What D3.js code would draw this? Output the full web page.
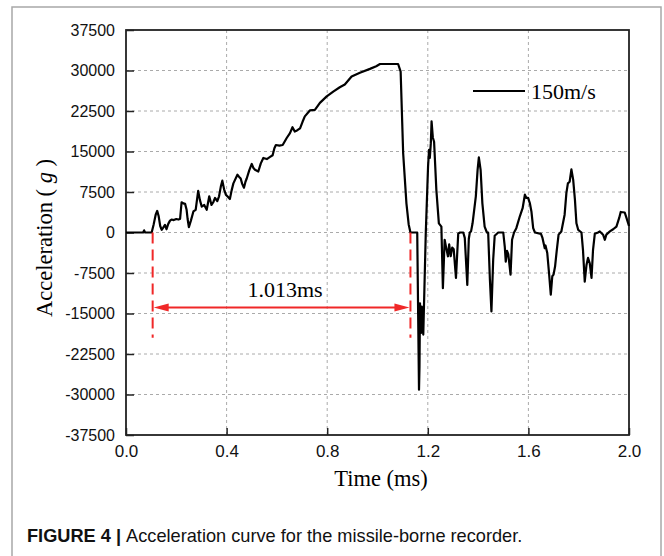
<!DOCTYPE html>
<html>
<head>
<meta charset="utf-8">
<script src="https://cdn.jsdelivr.net/npm/d3@7"></script>
<style>
  body { margin: 0; background: #fff; }
  svg { display: block; }
</style>
</head>
<body>
<script>
// data (time in ms, acceleration in g)
const time = [0.000, 0.068, 0.072, 0.076, 0.102, 0.110, 0.118, 0.124, 0.130, 0.136,
  0.142, 0.148, 0.155, 0.161, 0.168, 0.175, 0.181, 0.190, 0.200, 0.208,
  0.215, 0.221, 0.228, 0.235, 0.241, 0.245, 0.250, 0.258, 0.268, 0.277,
  0.287, 0.294, 0.301, 0.311, 0.321, 0.331, 0.340, 0.347, 0.354, 0.363,
  0.370, 0.377, 0.383, 0.390, 0.397, 0.405, 0.413, 0.420, 0.427, 0.443,
  0.450, 0.456, 0.462, 0.469, 0.475, 0.480, 0.490, 0.500, 0.506, 0.513,
  0.526, 0.536, 0.546, 0.560, 0.573, 0.583, 0.590, 0.596, 0.610, 0.623,
  0.639, 0.652, 0.662, 0.671, 0.680, 0.692, 0.702, 0.711, 0.731, 0.751,
  0.771, 0.798, 0.824, 0.850, 0.870, 0.897, 0.930, 0.970, 0.995, 1.010,
  1.045, 1.082, 1.092, 1.102, 1.115, 1.124, 1.131, 1.158, 1.165, 1.167,
  1.169, 1.173, 1.176, 1.182, 1.192, 1.201, 1.205, 1.208, 1.212, 1.215,
  1.220, 1.225, 1.234, 1.244, 1.254, 1.260, 1.267, 1.273, 1.280, 1.285,
  1.291, 1.297, 1.303, 1.312, 1.321, 1.328, 1.341, 1.347, 1.357, 1.363,
  1.367, 1.372, 1.378, 1.391, 1.398, 1.403, 1.410, 1.417, 1.426, 1.435,
  1.440, 1.447, 1.453, 1.460, 1.466, 1.480, 1.500, 1.506, 1.510, 1.515,
  1.520, 1.529, 1.535, 1.543, 1.552, 1.566, 1.577, 1.586, 1.592, 1.599,
  1.606, 1.612, 1.619, 1.626, 1.650, 1.656, 1.665, 1.668, 1.675, 1.682,
  1.689, 1.695, 1.700, 1.706, 1.713, 1.720, 1.731, 1.744, 1.751, 1.757,
  1.764, 1.771, 1.778, 1.785, 1.791, 1.798, 1.811, 1.817, 1.824, 1.831,
  1.837, 1.844, 1.851, 1.857, 1.864, 1.877, 1.884, 1.897, 1.904, 1.910,
  1.924, 1.937, 1.950, 1.961, 1.967, 1.983, 1.990, 2.000];

const accel = [0, 0, 400, 0, 0, 1500, 3300, 4000, 3000, 1200,
  500, 900, 1400, 600, 1600, 2200, 2400, 2300, 2500, 2400,
  2500, 5600, 5400, 5300, 4200, 2500, 1000, 2200, 3900, 4200,
  7700, 6000, 4800, 5100, 4200, 6700, 5100, 5600, 6400, 5800,
  6700, 8500, 9600, 8000, 7000, 6600, 6200, 7800, 9100, 10700,
  10300, 10000, 9000, 8300, 9400, 10000, 11500, 12700, 12000, 11600,
  11300, 12800, 13800, 13600, 14000, 14300, 15600, 16200, 16100, 16200,
  17500, 18400, 19500, 18700, 18900, 19300, 20500, 21500, 22600, 22700,
  24000, 25200, 26100, 26900, 27400, 28900, 29600, 30300, 30800, 31200,
  31200, 31200, 29800, 14700, 5400, 1500, 0, 0, -29100, -24800,
  -13100, -18600, -13700, -18900, 0, 12200, 15300, 13800, 16500, 20600,
  17600, 16800, 7900, 1700, 1100, -10300, -1350, -2800, -4400, -2200,
  -4400, -2800, -3100, -8400, -200, 0, 0, -1000, -9700, -1200,
  0, 200, 1700, 6700, 11600, 13900, 11600, 5400, 1100, 0,
  0, -8800, -14600, -5000, -600, 0, 0, -2600, -5400, -3400,
  -4000, -7800, -1350, 0, 800, 3000, 4500, 7000, 6400, 6400,
  5400, 3900, 800, 0, -250, -1000, -2900, -2400, -3800, -7500,
  -11500, -8100, -7800, -6300, -3200, -400, 200, 3300, 7300, 9100,
  9400, 11700, 9800, 6100, 1700, 500, 0, -3200, -9100, -6000,
  -4700, -5700, -8400, -3200, -250, 0, 200, -400, -1350, -400,
  200, 600, 1100, 2700, 3800, 3700, 2700, 1200];

const xTicks = [0.0, 0.4, 0.8, 1.2, 1.6, 2.0];
const yTicks = [-37500, -30000, -22500, -15000, -7500, 0, 7500, 15000, 22500, 30000, 37500];

// start and end of the 1.013 ms pulse
const pulse = [0.106, 1.131];

const W = 664, H = 556;
const plot = {left: 126, right: 629, top: 30, bottom: 435};

const svg = d3.select('body').append('svg')
  .attr('width', W)
  .attr('height', H);

// outer figure frame
svg.append('rect')
  .attr('x', 12).attr('y', 7)
  .attr('width', 649).attr('height', 600)
  .attr('fill', 'none')
  .attr('stroke', '#a8a8a8')
  .attr('stroke-width', 1.5);

const x = d3.scaleLinear().domain([0, 2]).range([plot.left, plot.right]);
const y = d3.scaleLinear().domain([-37500, 37500]).range([plot.bottom, plot.top]);

// grid
svg.append('g').selectAll('line')
  .data(yTicks.slice(1, -1))
  .join('line')
  .attr('x1', plot.left).attr('x2', plot.right)
  .attr('y1', d => y(d)).attr('y2', d => y(d))
  .attr('stroke', '#aaa')
  .attr('stroke-dasharray', '3,3');

svg.append('g').selectAll('line')
  .data(xTicks.slice(1, -1))
  .join('line')
  .attr('x1', d => x(d)).attr('x2', d => x(d))
  .attr('y1', plot.top).attr('y2', plot.bottom)
  .attr('stroke', '#aaa')
  .attr('stroke-dasharray', '3,3');

// axes with inward ticks
const xAxis = svg.append('g')
  .attr('transform', `translate(0,${plot.bottom})`)
  .call(d3.axisBottom(x).tickValues(xTicks).tickSize(-7).tickPadding(10).tickFormat(d3.format('.1f')));

const yAxis = svg.append('g')
  .attr('transform', `translate(${plot.left},0)`)
  .call(d3.axisLeft(y).tickValues(yTicks).tickSize(-8).tickPadding(11).tickFormat(d => d));

[xAxis, yAxis].forEach(g => {
  g.select('.domain').remove();
  g.selectAll('line').attr('stroke', '#222').attr('stroke-width', 1.5);
  g.selectAll('text')
    .attr('fill', '#111')
    .style('font-family', '"Liberation Sans", Arial, sans-serif');
});
xAxis.selectAll('text').style('font-size', '17px');
yAxis.selectAll('text').style('font-size', '16px');

// plot frame
svg.append('rect')
  .attr('x', plot.left).attr('y', plot.top)
  .attr('width', plot.right - plot.left)
  .attr('height', plot.bottom - plot.top)
  .attr('fill', 'none')
  .attr('stroke', '#222')
  .attr('stroke-width', 1.8);

// acceleration curve
const line = d3.line()
  .x((d, i) => x(time[i]))
  .y(d => y(d));

svg.append('path')
  .datum(accel)
  .attr('d', line)
  .attr('fill', 'none')
  .attr('stroke', '#000')
  .attr('stroke-width', 2.2)
  .attr('stroke-linejoin', 'round');

// red annotation
const red = '#f02828';
svg.append('g').selectAll('line')
  .data(pulse)
  .join('line')
  .attr('x1', d => x(d)).attr('x2', d => x(d))
  .attr('y1', y(0)).attr('y2', y(-19500))
  .attr('stroke', red)
  .attr('stroke-width', 2)
  .attr('stroke-dasharray', '11,6');

const arrowY = y(-13900);
svg.append('line')
  .attr('x1', x(pulse[0]) + 12).attr('x2', x(pulse[1]) - 12)
  .attr('y1', arrowY).attr('y2', arrowY)
  .attr('stroke', red)
  .attr('stroke-width', 2);

const ax0 = x(pulse[0]) + 1, ax1 = x(pulse[1]) - 1;
svg.append('path')
  .attr('d', `M${ax0},${arrowY} L${ax0 + 15},${arrowY - 4} L${ax0 + 15},${arrowY + 4} Z`)
  .attr('fill', red);
svg.append('path')
  .attr('d', `M${ax1},${arrowY} L${ax1 - 15},${arrowY - 4} L${ax1 - 15},${arrowY + 4} Z`)
  .attr('fill', red);

svg.append('text')
  .attr('x', 285).attr('y', 297)
  .attr('text-anchor', 'middle')
  .style('font-family', '"Liberation Serif", "Times New Roman", serif')
  .style('font-size', '22px')
  .text('1.013ms');

// legend
svg.append('line')
  .attr('x1', 473).attr('x2', 525)
  .attr('y1', 91).attr('y2', 91)
  .attr('stroke', '#000')
  .attr('stroke-width', 1.8);

svg.append('text')
  .attr('x', 531).attr('y', 99)
  .style('font-family', '"Liberation Serif", "Times New Roman", serif')
  .style('font-size', '22px')
  .text('150m/s');

// axis titles
svg.append('text')
  .attr('x', 381).attr('y', 486)
  .attr('text-anchor', 'middle')
  .style('font-family', '"Liberation Serif", "Times New Roman", serif')
  .style('font-size', '22.5px')
  .text('Time (ms)');

const yLabel = svg.append('text')
  .attr('transform', 'translate(52,238)rotate(-90)')
  .attr('text-anchor', 'middle')
  .style('font-family', '"Liberation Serif", "Times New Roman", serif')
  .style('font-size', '22.5px');
yLabel.append('tspan').text('Acceleration ( ');
yLabel.append('tspan').style('font-style', 'italic').text('g');
yLabel.append('tspan').text(' )');

// caption
const caption = svg.append('text')
  .attr('x', 27).attr('y', 542)
  .style('font-family', '"Liberation Sans", Arial, sans-serif')
  .style('font-size', '18.2px')
  .attr('fill', '#111');
caption.append('tspan').style('font-weight', 'bold').text('FIGURE 4 | ');
caption.append('tspan').text('Acceleration curve for the missile-borne recorder.');
</script>
</body>
</html>
